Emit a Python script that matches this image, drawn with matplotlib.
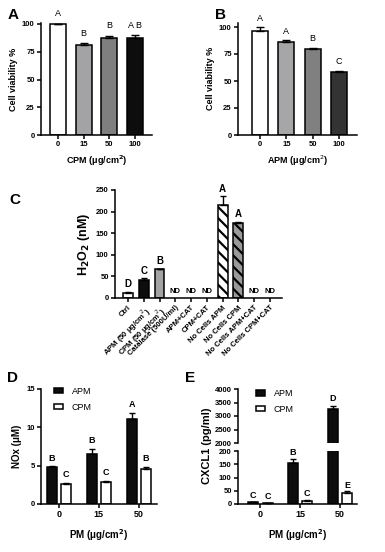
import matplotlib
matplotlib.use("Agg")
import matplotlib.pyplot as plt
import numpy as np

plt.rcParams['font.family'] = ['Liberation Sans', 'DejaVu Sans']
plt.rcParams['hatch.linewidth'] = 1.6

W, H = 385, 552

# ---------- data ----------
a_doses = ["0", "15", "50", "100"]
a_vals = [100, 81, 87, 87.5]
a_err = [0, 1.5, 2.5, 2.5]
a_letters = ["A", "B", "B", "A B"]
a_colors = ["white", "#a3a3a6", "#7f7f80", "#0d0d0d"]

b_doses = ["0", "15", "50", "100"]
b_vals = [96, 86.5, 79.5, 58]
b_err = [4, 1.5, 1.5, 1.5]
b_letters = ["A", "A", "B", "C"]
b_colors = ["white", "#a6a6a8", "#808081", "#333333"]

c_labels = ["Ctrl", "APM (50 μg/cm$^2$)", "CPM (50 μg/cm$^2$)", "Catalase (500U/ml)",
            "APM+CAT", "CPM+CAT", "No Cells APM", "No Cells CPM",
            "No Cells APM+CAT", "No Cells CPM+CAT"]
c_vals = [12, 42, 66, 0, 0, 0, 215, 173, 0, 0]
c_err = [3, 4, 2, 0, 0, 0, 20, 4, 0, 0]
c_letters = ["D", "C", "B", "ND", "ND", "ND", "A", "A", "ND", "ND"]
c_colors = ["white", "#0d0d0d", "#a3a3a6", "white", "white", "white", "white", "#9a9a9c", "white", "white"]
c_hatch = [None, None, None, None, None, None, "\\\\\\", "\\\\\\", None, None]

d_doses = ["0", "15", "50"]
d_apm = [4.8, 6.5, 11.1]
d_apm_err = [0.1, 0.7, 0.8]
d_cpm = [2.6, 2.9, 4.6]
d_cpm_err = [0.2, 0.15, 0.2]
d_apm_let = ["B", "B", "A"]
d_cpm_let = ["C", "C", "B"]

e_doses = ["0", "15", "50"]
e_apm = [6, 155, 3270]
e_apm_err = [2, 15, 100]
e_cpm = [3, 12, 40]
e_cpm_err = [1, 3, 8]
e_apm_let = ["C", "B", "D"]
e_cpm_let = ["C", "C", "E"]

fig = plt.figure(figsize=(W / 100, H / 100), dpi=100)


def ax_px(x0, x1, ytop, ybot):
    return fig.add_axes([x0 / W, 1 - ybot / H, (x1 - x0) / W, (ybot - ytop) / H])


def style(ax, bottom=True):
    for s in ["top", "right"]:
        ax.spines[s].set_visible(False)
    for s in ["left", "bottom"]:
        ax.spines[s].set_linewidth(1.1)
    if not bottom:
        ax.spines["bottom"].set_visible(False)
    ax.tick_params(width=1.1, length=3, labelsize=5.5, pad=1.5)
    for t in ax.get_xticklabels() + ax.get_yticklabels():
        t.set_fontweight("bold")


# ---------- A ----------
axA = ax_px(41, 152, 135 - 101 * 1.11, 135)
x = np.arange(4)
axA.bar(x, a_vals, width=0.62, color=a_colors, edgecolor="black", linewidth=1.1)
axA.errorbar(x, a_vals, yerr=[np.zeros(4), a_err], fmt="none", ecolor="black", elinewidth=1, capsize=3, capthick=1)
axA.set_xlim(-0.66, 3.66)
axA.set_ylim(0, 101)
axA.set_yticks([0, 25, 50, 75, 100])
axA.set_xticks(x)
axA.set_xticklabels(a_doses)
for xi, v, e, l in zip(x, a_vals, a_err, a_letters):
    axA.text(xi, v + e + 5, l, ha="center", va="bottom", fontsize=6.5, clip_on=False)
axA.set_ylabel("Cell viability %", fontsize=6.5, fontweight="bold", labelpad=3)
axA.set_xlabel("CPM (μg/cm$^\\mathbf{2}$)", fontsize=6.5, fontweight="bold", labelpad=4)
style(axA)

# ---------- B ----------
axB = ax_px(238, 357, 135 - 104 * 1.08, 135)
axB.bar(x, b_vals, width=0.61, color=b_colors, edgecolor="black", linewidth=1.1)
axB.errorbar(x, b_vals, yerr=[np.zeros(4), b_err], fmt="none", ecolor="black", elinewidth=1, capsize=3, capthick=1)
axB.set_xlim(-0.84, 3.69)
axB.set_ylim(0, 104)
axB.set_yticks([0, 25, 50, 75, 100])
axB.set_xticks(x)
axB.set_xticklabels(b_doses)
for xi, v, e, l in zip(x, b_vals, b_err, b_letters):
    axB.text(xi, v + e + 4, l, ha="center", va="bottom", fontsize=6.5, clip_on=False)
axB.set_ylabel("Cell viability %", fontsize=6.5, fontweight="bold", labelpad=3)
axB.set_xlabel("APM (μg/cm$^2$)", fontsize=6.5, fontweight="bold", labelpad=4)
style(axB)

# ---------- C ----------
axC = ax_px(115, 282, 190, 298)
xc = np.arange(10)
for xi, v, col, h in zip(xc, c_vals, c_colors, c_hatch):
    if v > 0:
        axC.bar(xi, v, width=0.63, color=col, edgecolor="black", linewidth=1.1, hatch=h)
mask = np.array(c_vals) > 0
axC.errorbar(xc[mask], np.array(c_vals)[mask],
             yerr=[np.zeros(mask.sum()), np.array(c_err)[mask]],
             fmt="none", ecolor="black", elinewidth=1, capsize=2, capthick=1)
axC.set_xlim(-0.82, 9.76)
axC.set_ylim(0, 250)
axC.set_yticks([0, 50, 100, 150, 200, 250])
axC.set_xticks(xc)
axC.set_xticklabels(c_labels, rotation=45, ha="right", rotation_mode="anchor")
for xi, v, e, l in zip(xc, c_vals, c_err, c_letters):
    if l == "ND":
        axC.text(xi, 8, l, ha="center", va="bottom", fontsize=5.5, fontweight="bold")
    else:
        axC.text(xi, v + e + 5, l, ha="center", va="bottom", fontsize=7, fontweight="bold", clip_on=False)
axC.set_ylabel("H$_\\mathbf{2}$O$_\\mathbf{2}$ (nM)", fontsize=9, fontweight="bold", labelpad=3)
style(axC)
for t in axC.get_xticklabels():
    t.set_fontsize(5.5)

# ---------- D ----------
axD = ax_px(41, 157, 389, 504)
xd = np.arange(3)
off = 0.18
bw = 0.25
axD.bar(xd - off, d_apm, width=bw, color="#0d0d0d", edgecolor="black", linewidth=1.1, label="APM")
axD.bar(xd + off, d_cpm, width=bw, color="white", edgecolor="black", linewidth=1.1, label="CPM")
axD.errorbar(xd - off, d_apm, yerr=[np.zeros(3), d_apm_err], fmt="none", ecolor="black", elinewidth=1, capsize=2.5, capthick=1)
axD.errorbar(xd + off, d_cpm, yerr=[np.zeros(3), d_cpm_err], fmt="none", ecolor="black", elinewidth=1, capsize=2.5, capthick=1)
for xi, v, e, l in zip(xd - off, d_apm, d_apm_err, d_apm_let):
    axD.text(xi, v + e + 0.5, l, ha="center", va="bottom", fontsize=6.5, fontweight="bold")
for xi, v, e, l in zip(xd + off, d_cpm, d_cpm_err, d_cpm_let):
    axD.text(xi, v + e + 0.5, l, ha="center", va="bottom", fontsize=6.5, fontweight="bold")
axD.set_xlim(-0.445, 2.455)
axD.set_ylim(0, 15)
axD.set_yticks([0, 5, 10, 15])
axD.set_xticks(xd)
axD.set_xticklabels(d_doses)
axD.set_ylabel("NOx (μM)", fontsize=7, fontweight="bold", labelpad=3)
axD.set_xlabel("PM (μg/cm$^\\mathbf{2}$)", fontsize=7, fontweight="bold", labelpad=6)
style(axD)
axD.tick_params(axis="x", labelsize=6.5)
axD.legend(loc="upper left", bbox_to_anchor=(0.04, 1.09), frameon=False, fontsize=6.5,
           handlelength=1.0, handleheight=0.55, handletextpad=1.0, labelspacing=0.75)

# ---------- E (broken axis) ----------
axE1 = ax_px(238, 357, 389, 443)
axE2 = ax_px(238, 357, 451, 504)
xe = np.arange(3)
for ax in (axE1, axE2):
    ax.bar(xe - off, e_apm, width=bw, color="#0d0d0d", edgecolor="black", linewidth=1.1, label="APM")
    ax.bar(xe + off, e_cpm, width=bw, color="white", edgecolor="black", linewidth=1.1, label="CPM")
    ax.errorbar(xe - off, e_apm, yerr=[np.zeros(3), e_apm_err], fmt="none", ecolor="black", elinewidth=1, capsize=2.5, capthick=1)
    ax.errorbar(xe + off, e_cpm, yerr=[np.zeros(3), e_cpm_err], fmt="none", ecolor="black", elinewidth=1, capsize=2.5, capthick=1)
    ax.set_xlim(-0.566, 2.43)
axE1.set_ylim(2000, 4000)
axE1.set_yticks([2000, 2500, 3000, 3500, 4000])
axE1.set_xticks([])
axE2.set_ylim(0, 200)
axE2.set_yticks([0, 50, 100, 150, 200])
axE2.set_xticks(xe)
axE2.set_xticklabels(e_doses)
for xi, v, e, l in zip(xe - off, e_apm, e_apm_err, e_apm_let):
    if v > 200:
        axE1.text(xi, v + e + 100, l, ha="center", va="bottom", fontsize=6.5, fontweight="bold")
    else:
        axE2.text(xi, v + e + 6, l, ha="center", va="bottom", fontsize=6.5, fontweight="bold")
for xi, v, e, l in zip(xe + off, e_cpm, e_cpm_err, e_cpm_let):
    axE2.text(xi, v + e + 6, l, ha="center", va="bottom", fontsize=6.5, fontweight="bold")
style(axE1, bottom=False)
style(axE2)
axE2.tick_params(axis="x", labelsize=6.5)
axE2.set_xlabel("PM (μg/cm$^\\mathbf{2}$)", fontsize=7, fontweight="bold", labelpad=6)
fig.text(207 / W, 1 - 446 / H, "CXCL1 (pg/ml)", rotation=90, ha="center", va="center",
         fontsize=8, fontweight="bold")
axE1.legend(loc="upper left", bbox_to_anchor=(0.08, 1.15), frameon=False, fontsize=6.5,
            handlelength=1.0, handleheight=0.55, handletextpad=1.0, labelspacing=0.75)

# ---------- panel letters ----------
for lbl, px, py in [("A", 13, 15), ("B", 220, 15), ("C", 15, 200), ("D", 13, 378), ("E", 190, 378)]:
    fig.text(px / W, 1 - py / H, lbl, fontsize=11, fontweight="bold", ha="center", va="center")

fig.savefig("out.png", dpi=100)
